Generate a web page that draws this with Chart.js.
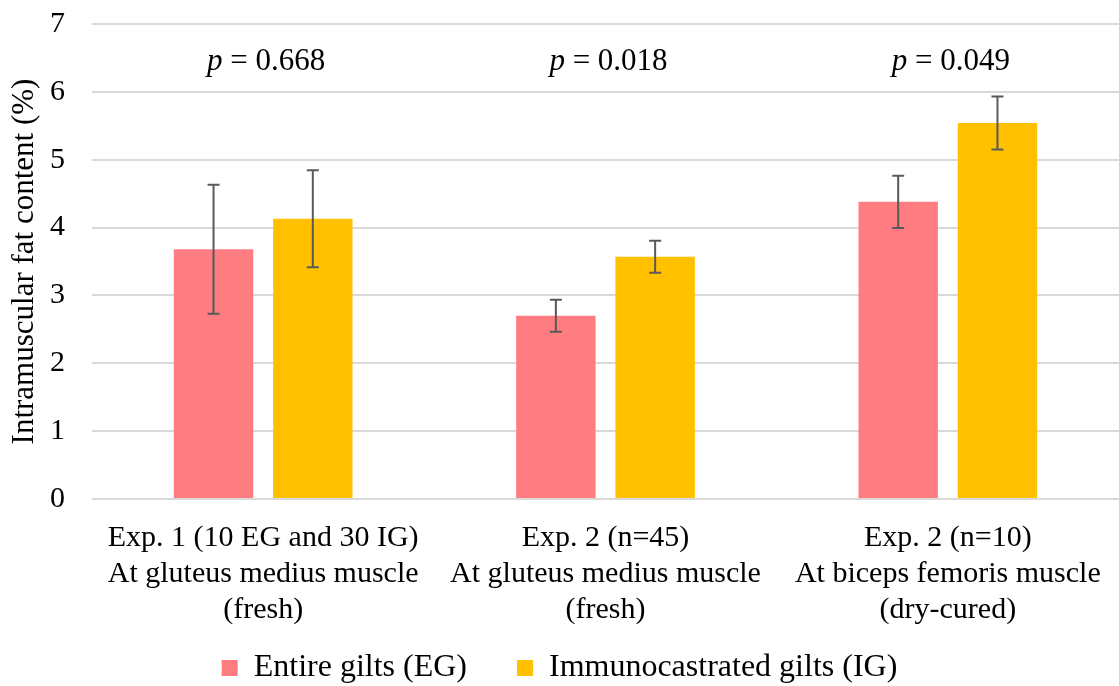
<!DOCTYPE html>
<html>
<head>
<meta charset="utf-8">
<script src="https://cdn.jsdelivr.net/npm/chart.js@4/dist/chart.umd.min.js"></script>
<style>
  html, body { margin: 0; padding: 0; background: #fff; }
  #wrap { width: 1119px; height: 686px; position: relative; }
</style>
</head>
<body>
<div id="wrap"><canvas id="imfChart"></canvas></div>
<script>
// Intramuscular fat, mean and error per group
const categories = [
    ["Exp. 1 (10 EG and 30 IG)", "At gluteus medius muscle", "(fresh)"],
    ["Exp. 2 (n=45)", "At gluteus medius muscle", "(fresh)"],
    ["Exp. 2 (n=10)", "At biceps femoris muscle", "(dry-cured)"]
];
const egMeans = [3.68, 2.70, 4.38];
const egErrors = [0.95, 0.235, 0.385];
const igMeans = [4.13, 3.57, 5.54];
const igErrors = [0.715, 0.235, 0.39];
const pValues = ["0.668", "0.018", "0.049"];
const yTicks = [0, 1, 2, 3, 4, 5, 6, 7];

const FONT = "'Liberation Serif', 'Times New Roman', serif";

// error bars drawn on top of bars
const errorBars = {
    id: "errorBars",
    afterDatasetsDraw(chart) {
        const ctx = chart.ctx;
        const y = chart.scales.y;
        ctx.save();
        ctx.strokeStyle = "#595959";
        ctx.lineWidth = 2;
        chart.data.datasets.forEach((ds, i) => {
            const meta = chart.getDatasetMeta(i);
            meta.data.forEach((bar, j) => {
                const top = y.getPixelForValue(ds.data[j] + ds.errors[j]);
                const bot = y.getPixelForValue(ds.data[j] - ds.errors[j]);
                ctx.beginPath();
                ctx.moveTo(bar.x, top);
                ctx.lineTo(bar.x, bot);
                ctx.moveTo(bar.x - 6, top);
                ctx.lineTo(bar.x + 6, top);
                ctx.moveTo(bar.x - 6, bot);
                ctx.lineTo(bar.x + 6, bot);
                ctx.stroke();
            });
        });
        ctx.restore();
    }
};

// p-value labels above each group
const pLabels = {
    id: "pLabels",
    afterDraw(chart) {
        const ctx = chart.ctx;
        const x = chart.scales.x;
        ctx.save();
        ctx.fillStyle = "#000";
        ctx.textBaseline = "middle";
        ctx.textAlign = "left";
        pValues.forEach((p, i) => {
            const cx = x.getPixelForValue(i) + 3;
            ctx.font = "italic 31px " + FONT;
            const wp = ctx.measureText("p").width;
            ctx.font = "31px " + FONT;
            const rest = " = " + p;
            const wr = ctx.measureText(rest).width;
            const start = cx - (wp + wr) / 2;
            ctx.font = "italic 31px " + FONT;
            ctx.fillText("p", start, 62);
            ctx.font = "31px " + FONT;
            ctx.fillText(rest, start + wp, 62);
        });
        ctx.restore();
    }
};

new Chart(document.getElementById("imfChart"), {
    type: "bar",
    data: {
        labels: categories,
        datasets: [
            {
                label: "Entire gilts (EG)",
                data: egMeans,
                errors: egErrors,
                backgroundColor: "#FF7C80",
                categoryPercentage: 0.58,
                barPercentage: 0.8
            },
            {
                label: "Immunocastrated gilts (IG)",
                data: igMeans,
                errors: igErrors,
                backgroundColor: "#FFC000",
                categoryPercentage: 0.58,
                barPercentage: 0.8
            }
        ]
    },
    options: {
        responsive: true,
        maintainAspectRatio: false,
        animation: false,
        layout: { padding: { top: 24, right: 0, left: 0, bottom: -8 } },
        plugins: {
            tooltip: { enabled: false },
            legend: {
                position: "bottom",
                labels: {
                    boxWidth: 16,
                    boxHeight: 16,
                    padding: 10,
                    color: "#000",
                    font: { family: FONT, size: 32 },
                    generateLabels(chart) {
                        const items = Chart.defaults.plugins.legend.labels.generateLabels(chart);
                        // widen the gap after the first entry
                        items[0].text += "     ";
                        return items;
                    }
                }
            }
        },
        scales: {
            x: {
                afterFit(scale) {
                    scale.height = 143;
                    scale.paddingLeft = 0;
                    scale.paddingRight = 0;
                },
                grid: { display: false, drawTicks: false },
                border: { display: false },
                ticks: {
                    color: "#000",
                    padding: 21,
                    maxRotation: 0,
                    autoSkip: false,
                    font: { family: FONT, size: 30, lineHeight: 1.2 }
                }
            },
            y: {
                min: 0,
                max: 7,
                afterBuildTicks(scale) {
                    scale.ticks = yTicks.map(v => ({ value: v }));
                },
                afterFit(scale) {
                    scale.width = 92;
                    scale.paddingTop = 0;
                    scale.paddingBottom = 0;
                },
                grid: { color: "#d9d9d9", lineWidth: 2, drawTicks: false },
                border: { display: false },
                ticks: {
                    color: "#000",
                    padding: 27,
                    font: { family: FONT, size: 30 }
                },
                title: {
                    display: true,
                    text: "Intramuscular fat content (%)",
                    color: "#000",
                    padding: { top: 6, bottom: 0 },
                    font: { family: FONT, size: 31 }
                }
            }
        }
    },
    plugins: [errorBars, pLabels]
});
</script>
</body>
</html>
